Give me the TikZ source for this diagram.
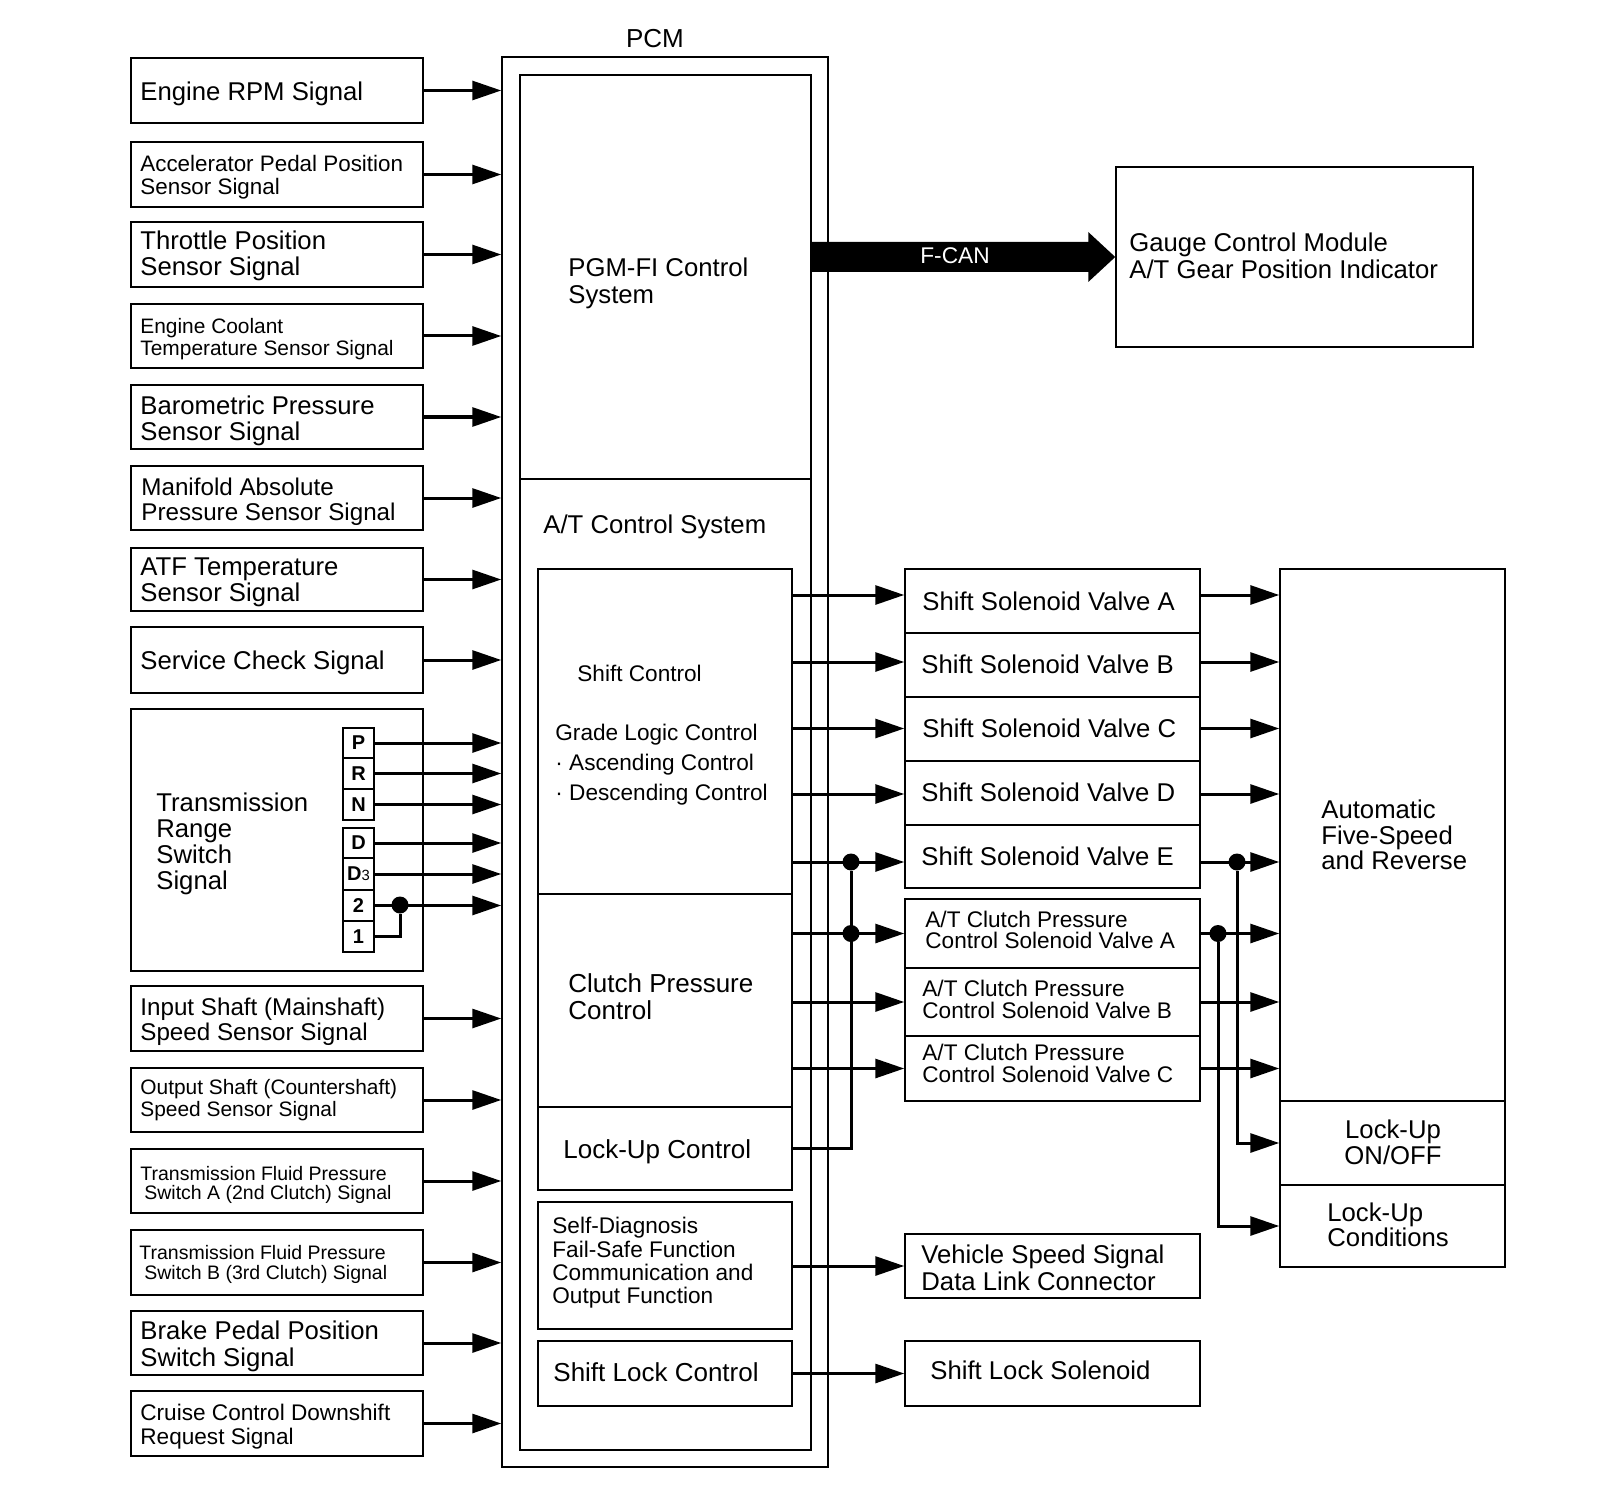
\documentclass[tikz,border=0pt]{standalone}
\usepackage{fontspec}
\setmainfont{Liberation Sans}
\usetikzlibrary{arrows.meta,fit,calc}

\newcommand\mkbox[5]{%
  \path (#2,#3) coordinate (#1-a) (#4,#5) coordinate (#1-b);
  \node[box, fit=(#1-a)(#1-b)] (#1) {};}

\begin{document}
\begin{tikzpicture}[x=0.5pt,y=-0.5pt,
  box/.style={draw, line width=0.75pt, inner sep=0pt},
  txt/.style={inner sep=0pt, anchor=west, align=left},
  fL/.style={font=\fontsize{12.85pt}{#1}\selectfont}, fL/.default=13.25pt,
  fMb/.style={font=\fontsize{12.1pt}{#1}\selectfont}, fMb/.default=12.25pt,
  fM/.style={font=\fontsize{11.3pt}{#1}\selectfont}, fM/.default=11.75pt,
  fS/.style={font=\fontsize{10.45pt}{#1}\selectfont}, fS/.default=10.7pt,
  fXS/.style={font=\fontsize{9.75pt}{#1}\selectfont}, fXS/.default=9.9pt,
  conn/.style={line width=1.5pt, -{Triangle[length=14.5pt,width=9.5pt]}},
  wire/.style={line width=1.5pt},
  dot/.style={circle, fill, inner sep=0pt, minimum size=8.5pt},
  lt/.style={font=\fontsize{10pt}{11pt}\selectfont\bfseries, inner sep=0pt},
]
\fill[white] (0,0) rectangle (1600,1508);
\useasboundingbox (0,0) rectangle (1600,1508);

% ---------- left input boxes ----------
\mkbox{rpm}{131}{58}{423}{123}
\mkbox{acc}{131}{142}{423}{207}
\mkbox{tps}{131}{222}{423}{287}
\mkbox{ect}{131}{304}{423}{368}
\mkbox{baro}{131}{385}{423}{449}
\mkbox{map}{131}{466}{423}{530}
\mkbox{atf}{131}{548}{423}{611}
\mkbox{svc}{131}{627}{423}{693}
\mkbox{tr}{131}{709}{423}{971}
\mkbox{iss}{131}{986}{423}{1051}
\mkbox{oss}{131}{1068}{423}{1132}
\mkbox{tfa}{131}{1149}{423}{1213}
\mkbox{tfb}{131}{1230}{423}{1295}
\mkbox{bps}{131}{1311}{423}{1375}
\mkbox{ccd}{131}{1391}{423}{1456}

% range switch letter boxes
\mkbox{kP}{343}{728}{374}{758}
\mkbox{kR}{343}{758}{374}{789}
\mkbox{kN}{343}{789}{374}{820}
\mkbox{kD}{343}{828}{374}{858}
\mkbox{kDt}{343}{858}{374}{890}
\mkbox{k2}{343}{890}{374}{921}
\mkbox{k1}{343}{921}{374}{952}

% ---------- PCM ----------
\mkbox{pcmo}{502}{57}{828}{1467}
\mkbox{pcmi}{520}{75}{811}{1450}
\mkbox{pgm}{520}{75}{811}{479}
\mkbox{sc}{538}{569}{792}{894}
\mkbox{cp}{538}{894}{792}{1107}
\mkbox{lu}{538}{1107}{792}{1190}
\mkbox{sd}{538}{1202}{792}{1329}
\mkbox{slc}{538}{1341}{792}{1406}

% ---------- right boxes ----------
\mkbox{gcm}{1116}{167}{1473}{347}
\mkbox{ssva}{905}{569}{1200}{633}
\mkbox{ssvb}{905}{633}{1200}{697}
\mkbox{ssvc}{905}{697}{1200}{761}
\mkbox{ssvd}{905}{761}{1200}{825}
\mkbox{ssve}{905}{825}{1200}{888}
\mkbox{cpca}{905}{899}{1200}{968}
\mkbox{cpcb}{905}{968}{1200}{1036}
\mkbox{cpcc}{905}{1036}{1200}{1101}
\mkbox{vss}{905}{1234}{1200}{1298}
\mkbox{sls}{905}{1341}{1200}{1406}
\mkbox{auto}{1280}{569}{1505}{1101}
\mkbox{luo}{1280}{1101}{1505}{1185}
\mkbox{luc}{1280}{1185}{1505}{1267}

% ---------- texts ----------
\node[txt,fL] (t-rpm) at (140,93.7) {Engine RPM Signal};
\node[txt,font=\fontsize{11.2pt}{11.75pt}\selectfont] (t-acc) at (140,177.4) {Accelerator Pedal Position\\Sensor Signal};
\node[txt,fL] (t-tps) at (140,255.7) {Throttle Position\\Sensor Signal};
\node[txt,fS] (t-ect) at (140,339.2) {Engine Coolant\\Temperature Sensor Signal};
\node[txt,fL] (t-baro) at (140,420.7) {Barometric Pressure\\Sensor Signal};
\node[txt,fMb] (t-map) at (141,501.6) {Manifold Absolute\\Pressure Sensor Signal};
\node[txt,fL] (t-atf) at (140,582.2) {ATF Temperature\\Sensor Signal};
\node[txt,fL] (t-svc) at (140,662.7) {Service Check Signal};
\node[txt,fL=12.9pt] (t-tr) at (156,843.7) {Transmission\\Range\\Switch\\Signal};
\node[txt,fMb] (t-iss) at (140,1021.6) {Input Shaft (Mainshaft)\\Speed Sensor Signal};
\node[txt,fS] (t-oss) at (140,1100.2) {Output Shaft (Countershaft)\\Speed Sensor Signal};
\node[txt,fXS] (t-tfa) at (140,1185) {Transmission Fluid Pressure\\\hspace*{2pt}Switch A (2nd Clutch) Signal};
\node[txt,fXS] (t-tfb) at (139,1264.5) {Transmission Fluid Pressure\\\hspace*{2.5pt}Switch B (3rd Clutch) Signal};
\node[txt,fL] (t-bps) at (140,1346.2) {Brake Pedal Position\\Switch Signal};
\node[txt,fM=12.25pt] (t-ccd) at (140,1426.4) {Cruise Control Downshift\\Request Signal};

\node[lt] (t-kP) at (kP) {P};
\node[lt] (t-kR) at (kR) {R};
\node[lt] (t-kN) at (kN) {N};
\node[lt] (t-kD) at (kD) {D};
\node[lt] (t-kDt) at (kDt) {D\fontsize{7.4pt}{8pt}\selectfont\mdseries 3};
\node[lt] (t-k2) at (k2) {2};
\node[lt] (t-k1) at (k1) {1};

\node[inner sep=0pt,font=\fontsize{13pt}{14pt}\selectfont] (t-pcm) at (655,39) {PCM};
\node[txt,fL] (t-pgm) at (568,283.2) {PGM-FI Control\\System};
\node[txt,fL] (t-at) at (543,526.7) {A/T Control System};
\node[txt,fM] (t-sc) at (577,673) {Shift Control};
\node[txt,fM=15pt] (t-glc) at (555,764.4) {Grade Logic Control\\· Ascending Control\\· Descending Control};
\node[txt,font=\fontsize{13pt}{13.25pt}\selectfont] (t-cp) at (568,996.5) {Clutch Pressure\\Control};
\node[txt,font=\fontsize{13pt}{13.25pt}\selectfont] (t-lu) at (563,1151.7) {Lock-Up Control};
\node[txt,fM=11.65pt] (t-sd) at (552,1262.9) {Self-Diagnosis\\Fail-Safe Function\\Communication and\\Output Function};
\node[txt,font=\fontsize{13pt}{13.25pt}\selectfont] (t-slc) at (553,1372) {Shift Lock Control};

\node[txt,fL] (t-gcm) at (1129,256) {Gauge Control Module\\A/T Gear Position Indicator};
\node[txt,fL] (t-ssva) at (922,601) {Shift Solenoid Valve A};
\node[txt,fL] (t-ssvb) at (921,664.5) {Shift Solenoid Valve B};
\node[txt,fL] (t-ssvc) at (922,728) {Shift Solenoid Valve C};
\node[txt,fL] (t-ssvd) at (921,792.5) {Shift Solenoid Valve D};
\node[txt,fL] (t-ssve) at (921,856) {Shift Solenoid Valve E};
\node[txt,fM=10.75pt] (t-cpca) at (925,930) {A/T Clutch Pressure\\Control Solenoid Valve A};
\node[txt,fM=10.75pt] (t-cpcb) at (922,999.5) {A/T Clutch Pressure\\Control Solenoid Valve B};
\node[txt,fM=10.75pt] (t-cpcc) at (922,1063.5) {A/T Clutch Pressure\\Control Solenoid Valve C};
\node[txt,fL] (t-vss) at (921,1268) {Vehicle Speed Signal\\Data Link Connector};
\node[txt,fL] (t-sls) at (930,1370) {Shift Lock Solenoid};
\node[txt,fL=12.75pt] (t-auto) at (1321,835) {Automatic\\Five-Speed\\and Reverse};
\node[inner sep=0pt,align=center,fL=13pt] (t-luo) at (1393,1142.5) {Lock-Up\\ON/OFF};
\node[txt,fL=12.5pt] (t-luc) at (1327,1224.5) {Lock-Up\\Conditions};

% ---------- input arrows ----------
\foreach \b in {rpm,acc,tps,ect,baro,map,atf,svc,iss,oss,tfa,tfb,bps,ccd,kP,kR,kN,kD,kDt,k2}
  \draw[conn] (\b.east) -- (\b.east -| pcmo.west);

% range switch 1 joins 2
\node[dot] (td) at (400,905) {};
\draw[wire] (k1.east) -| (td);

% ---------- shift control outputs ----------
\coordinate (ya) at (0,595);
\coordinate (yb) at (0,662);
\coordinate (yc) at (0,728.5);
\coordinate (yd) at (0,794);
\coordinate (ye) at (0,862);
\draw[conn] (sc.east |- ya) -- (ssva.west |- ya);
\draw[conn] (sc.east |- yb) -- (ssvb.west |- yb);
\draw[conn] (sc.east |- yc) -- (ssvc.west |- yc);
\draw[conn] (sc.east |- yd) -- (ssvd.west |- yd);
\draw[conn] (sc.east |- ye) -- (ssve.west |- ye);
\draw[conn] (ssva.east |- ya) -- (auto.west |- ya);
\draw[conn] (ssvb.east |- yb) -- (auto.west |- yb);
\draw[conn] (ssvc.east |- yc) -- (auto.west |- yc);
\draw[conn] (ssvd.east |- yd) -- (auto.west |- yd);
\draw[conn] (ssve.east |- ye) -- (auto.west |- ye);

% clutch pressure outputs
\draw[conn] (cpca.west -| cp.east) -- (cpca.west);
\draw[conn] (cpcb.west -| cp.east) -- (cpcb.west);
\draw[conn] (cpcc.west -| cp.east) -- (cpcc.west);
\draw[conn] (cpca.east) -- (cpca.east -| auto.west);
\draw[conn] (cpcb.east) -- (cpcb.east -| auto.west);
\draw[conn] (cpcc.east) -- (cpcc.east -| auto.west);

% lock-up bus (left)
\node[dot] (bd1) at (851,862) {};
\node[dot] (bd2) at (851,933.5) {};
\draw[wire] (lu.east) -| (bd1);

% lock-up buses (right)
\node[dot] (rd1) at (1237,862) {};
\node[dot] (rd2) at (1218,933.5) {};
\draw[conn] (rd1) |- (luo.west);
\draw[conn] (rd2) |- (luc.west);

% other outputs
\draw[conn] (vss.west -| sd.east) -- (vss.west);
\draw[conn] (sls.west -| slc.east) -- (sls.west);

% ---------- F-CAN ----------
\coordinate (fcs) at (pcmi.east |- 0,257);
\coordinate (fce) at (gcm.west |- 0,257);
\fill (fcs) ++(0,-15) -- ($(fce)+(-27,-15)$) -- ($(fce)+(-27,-25)$) -- (fce)
  -- ($(fce)+(-27,25)$) -- ($(fce)+(-27,15)$) -- ($(fcs)+(0,15)$) -- cycle;
\node[inner sep=0pt,text=white,font=\fontsize{11.35pt}{12pt}\selectfont] (t-fcan) at (955,256) {F-CAN};
\end{tikzpicture}
\end{document}
